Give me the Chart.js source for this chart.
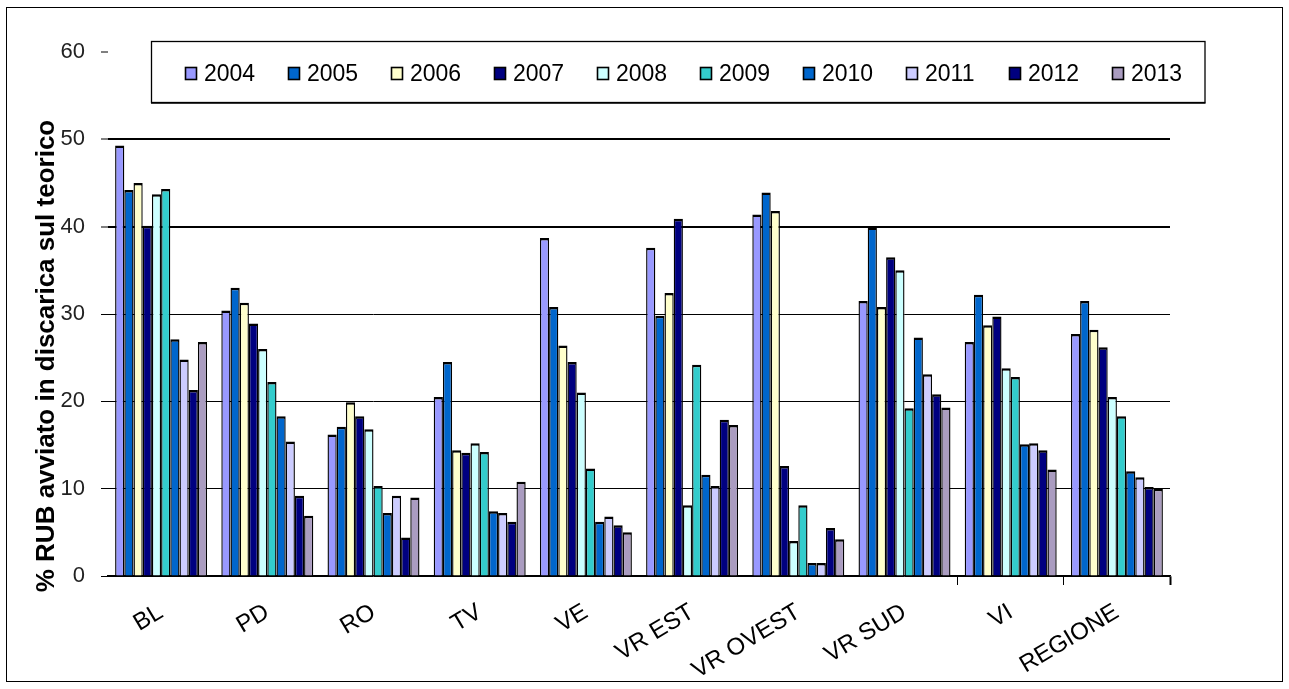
<!DOCTYPE html>
<html>
<head>
<meta charset="utf-8">
<title>% RUB avviato in discarica sul teorico</title>
<script src="https://cdn.jsdelivr.net/npm/chart.js@4.4.0/dist/chart.umd.min.js"></script>
<style>
  html, body { margin: 0; padding: 0; background: #fff; }
  #wrap { position: relative; width: 1289px; height: 689px; }
</style>
</head>
<body>
<div id="wrap"><canvas id="c" width="1289" height="689"></canvas></div>
<script>
// Province / area categories
const categories = ['BL', 'PD', 'RO', 'TV', 'VE', 'VR EST', 'VR OVEST', 'VR SUD', 'VI', 'REGIONE'];
const years = ['2004', '2005', '2006', '2007', '2008', '2009', '2010', '2011', '2012', '2013'];

// % of RUB sent to landfill, one array per year (same order as categories)
const v2004 = [49.3, 30.4, 16.2, 20.5, 38.7, 37.6, 41.4, 31.5, 26.8, 27.7];
const v2005 = [44.2, 33.0, 17.1, 24.5, 30.8, 29.8, 43.9, 39.9, 32.2, 31.5];
const v2006 = [45.0, 31.3, 19.9, 14.4, 26.4, 32.4, 41.8, 30.8, 28.7, 28.2];
const v2007 = [40.1, 28.9, 18.3, 14.1, 24.5, 40.9, 12.6, 36.5, 29.7, 26.2];
const v2008 = [43.7, 26.0, 16.8, 15.2, 21.0, 8.1, 4.0, 35.0, 23.8, 20.5];
const v2009 = [44.3, 22.2, 10.3, 14.2, 12.3, 24.2, 8.1, 19.2, 22.8, 18.3];
const v2010 = [27.1, 18.3, 7.2, 7.4, 6.2, 11.6, 1.5, 27.3, 15.1, 12.0];
const v2011 = [24.8, 15.4, 9.2, 7.2, 6.8, 10.3, 1.5, 23.1, 15.2, 11.3];
const v2012 = [21.3, 9.2, 4.4, 6.2, 5.8, 17.9, 5.5, 20.8, 14.4, 10.2];
const v2013 = [26.8, 6.9, 9.0, 10.8, 5.0, 17.3, 4.2, 19.3, 12.2, 10.0];

const yTicks = [0, 10, 20, 30, 40, 50, 60];

const series = [v2004, v2005, v2006, v2007, v2008, v2009, v2010, v2011, v2012, v2013];
const colors = ['#9999FF', '#0066CC', '#FFFFCC', '#000080', '#CCFFFF',
                '#33CCCC', '#0066CC', '#CCCCFF', '#000080', '#AA9CC0'];

const FONT = '"Liberation Sans", Arial, sans-serif';
const yTitle = '% RUB avviato in discarica sul teorico';

// Frame, boxed legend and vertical axis title
const decor = {
  id: 'decor',
  beforeDraw(chart) {
    const ctx = chart.ctx;
    ctx.save();
    ctx.fillStyle = '#fff';
    ctx.fillRect(0, 0, chart.width, chart.height);
    ctx.strokeStyle = '#000';
    ctx.lineWidth = 1;
    ctx.strokeRect(6.5, 7.5, 1276, 674);
    ctx.restore();
  },
  afterDraw(chart) {
    const ctx = chart.ctx;
    ctx.save();
    // legend box
    ctx.strokeStyle = '#000';
    ctx.lineWidth = 1.3;
    ctx.strokeRect(151.5, 41.5, 1053.5, 61);
    ctx.beginPath();
    ctx.moveTo(151, 103.2);
    ctx.lineTo(1205.5, 103.2);
    ctx.stroke();
    // legend entries
    ctx.font = '23px ' + FONT;
    ctx.textBaseline = 'alphabetic';
    ctx.textAlign = 'left';
    chart.data.datasets.forEach((ds, i) => {
      const x = 185.5 + 103 * i;
      ctx.fillStyle = ds.backgroundColor;
      ctx.fillRect(x, 67.5, 11, 12);
      ctx.lineWidth = 1.6;
      ctx.strokeStyle = '#000';
      ctx.strokeRect(x, 67.5, 11, 12);
      ctx.fillStyle = '#000';
      ctx.fillText(ds.label, x + 18.5, 80.5);
    });
    // y-axis title
    ctx.translate(47, 356);
    ctx.rotate(-Math.PI / 2);
    ctx.font = 'bold 26px ' + FONT;
    ctx.textAlign = 'center';
    ctx.textBaseline = 'middle';
    ctx.fillStyle = '#000';
    ctx.fillText(yTitle, 0, 0);
    ctx.restore();
  }
};

new Chart(document.getElementById('c'), {
  type: 'bar',
  data: {
    labels: categories,
    datasets: years.map((y, i) => ({
      label: y,
      data: series[i],
      backgroundColor: colors[i],
      borderColor: '#000',
      borderWidth: { top: 2.5, left: 1.4, right: 1.4, bottom: 0 },
      categoryPercentage: 0.866,
      barPercentage: 1.0
    }))
  },
  options: {
    responsive: false,
    animation: false,
    layout: { padding: { top: 52, right: 119, left: 0, bottom: 0 } },
    plugins: {
      legend: { display: false },
      tooltip: { enabled: false },
      title: { display: false }
    },
    scales: {
      x: {
        offset: true,
        grid: {
          offset: true,
          drawOnChartArea: false,
          drawTicks: true,
          tickLength: 9,
          tickColor: c => (c.index === undefined || c.index >= 8) ? '#000' : 'rgba(0,0,0,0)',
          tickWidth: c => (c.index === undefined) ? 2 : 1
        },
        border: { display: true, color: '#000', width: 1.3 },
        ticks: {
          maxRotation: 31,
          minRotation: 31,
          autoSkip: false,
          padding: 13,
          color: '#000',
          font: { family: FONT, size: 24 }
        },
        afterFit: s => { s.height = 113; }
      },
      y: {
        min: 0,
        max: 60,
        afterBuildTicks: s => { s.ticks = yTicks.map(v => ({ value: v })); },
        grid: {
          color: c => (c.tick && c.tick.value === 60) ? 'rgba(0,0,0,0)' : '#000',
          lineWidth: c => (c.tick && c.tick.value >= 40) ? 2 : 1,
          tickColor: '#000',
          tickWidth: 1,
          tickLength: 7
        },
        border: { display: false },
        ticks: {
          padding: 16,
          color: '#222',
          font: { family: FONT, size: 22 }
        },
        afterFit: s => { s.width = 108; }
      }
    }
  },
  plugins: [decor]
});
</script>
</body>
</html>
